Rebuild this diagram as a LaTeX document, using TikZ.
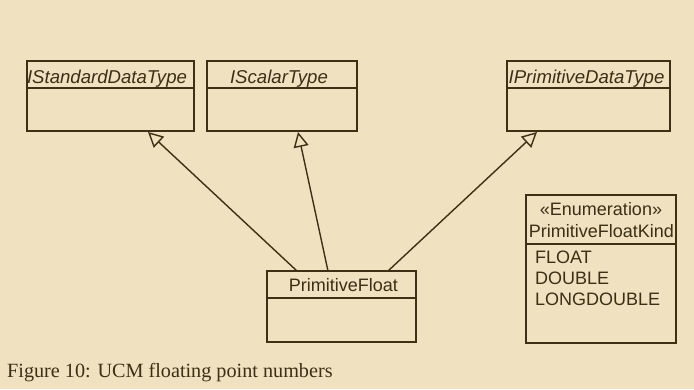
\documentclass[tikz,border=0pt]{standalone}
\usepackage{fontspec}
\setmainfont{Liberation Serif}
\newfontfamily\umlfont{Liberation Sans}
\usetikzlibrary{arrows.meta,calc}
\definecolor{bgc}{HTML}{F0E2C1}
\definecolor{lnc}{HTML}{3D3015}
\definecolor{txc}{HTML}{3B2F14}
\tikzset{
  umlbox/.style={draw=lnc, line width=1.4pt, rectangle, inner sep=0pt},
  umltext/.style={text=txc, inner sep=0pt, anchor=base, font=\umlfont\fontsize{18}{20}\selectfont},
  itext/.style={umltext, font=\umlfont\itshape\fontsize{18.6}{20}\selectfont},
  divider/.style={draw=lnc, line width=1.4pt},
  gen/.style={draw=lnc, line width=1.4pt, -{Triangle[open, length=15pt, width=15pt, line width=1.4pt]}},
}
\begin{document}
\begin{tikzpicture}[x=1pt, y=-1pt]
\fill[bgc] (0,0) rectangle (694,389);
\useasboundingbox (0,0) rectangle (694,389);

% boxes
\node[umlbox, minimum width=167pt, minimum height=70pt] (std) at (110.5,96) {};
\node[umlbox, minimum width=150pt, minimum height=70pt] (scal) at (282,96) {};
\node[umlbox, minimum width=163pt, minimum height=70pt] (prim) at (588.5,96) {};
\node[umlbox, minimum width=149pt, minimum height=71pt] (pf) at (341.5,306.5) {};
\node[umlbox, minimum width=150pt, minimum height=148pt] (enum) at (601,269) {};

% dividers
\draw[divider] (27,88) -- (195,88);
\draw[divider] (207,88) -- (358,88);
\draw[divider] (507,88) -- (671,88);
\draw[divider] (267,298) -- (417,298);
\draw[divider] (526,244) -- (677,244);

% titles
\node[itext] (stdt) at (107,83) {IStandardDataType};
\node[itext] (scalt) at (279,83) {IScalarType};
\node[itext] (primt) at (586.5,83) {IPrimitiveDataType};
\node[umltext] (pft) at (343.5,291.5) {PrimitiveFloat};
\node[umltext] (ens) at (601,215.5) {«Enumeration»};
\node[umltext] (ent) at (601.5,237.3) {PrimitiveFloatKind};
\node[umltext, anchor=base west] (l1) at (535,263.3) {FLOAT};
\node[umltext, anchor=base west] (l2) at (535,284.3) {DOUBLE};
\node[umltext, anchor=base west] (l3) at (535,305) {LONGDOUBLE};

% connector ends
\coordinate (s1) at (297,271);
\coordinate (s2) at (328,271);
\coordinate (s3) at (388,271);
\coordinate (t1) at (148,132);
\coordinate (t2) at (298,132);
\coordinate (t3) at (537,132);
\draw[gen] (s1) -- (t1);
\draw[gen] (s2) -- (t2);
\draw[gen] (s3) -- (t3);

% caption
\node[text=txc, inner sep=0pt, anchor=base west, font=\fontsize{20.2}{23}\selectfont] (cap) at (7,377) {Figure 10: UCM floating point numbers};
\end{tikzpicture}
\end{document}
